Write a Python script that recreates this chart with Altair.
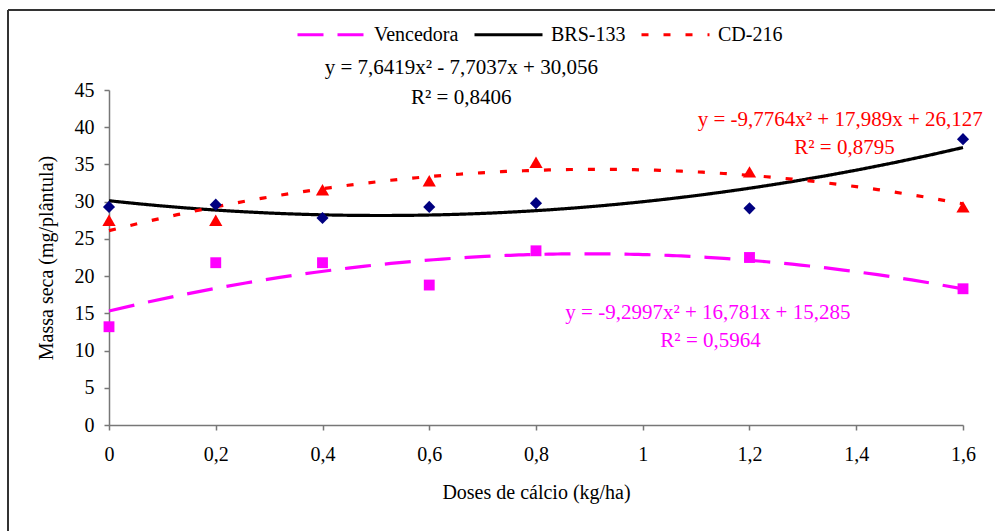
import altair as alt
import pandas as pd

# ---- data ----
doses = [0, 0.2, 0.4, 0.6, 0.8, 1.2, 1.6]
vencedora = [13.2, 21.8, 21.8, 18.8, 23.4, 22.5, 18.3]
brs133 = [29.3, 29.6, 27.8, 29.3, 29.8, 29.1, 38.4]
cd216 = [27.5, 27.5, 31.6, 32.8, 35.3, 34.0, 29.3]

cultivars = ["Vencedora", "BRS-133", "CD-216"]
line_colors = ["#FF00FF", "#000000", "#FF0000"]
point_colors = ["#FF00FF", "#000080", "#FF0000"]
point_shapes = ["square", "diamond", "triangle-up"]
point_sizes = [118, 175, 190]
dashes = [[26, 14], [1, 0], [7, 15]]

x_ticks = [0, 0.2, 0.4, 0.6, 0.8, 1.0, 1.2, 1.4, 1.6]
y_ticks = [0, 5, 10, 15, 20, 25, 30, 35, 40, 45]

eq_texts = [
    "y = 7,6419x² - 7,7037x + 30,056", "R² = 0,8406",
    "y = -9,7764x² + 17,989x + 26,127", "R² = 0,8795",
    "y = -9,2997x² + 16,781x + 15,285", "R² = 0,5964",
]
eq_groups = ["BRS-133", "BRS-133", "CD-216", "CD-216", "Vencedora", "Vencedora"]
eq_x = [0.66, 0.66, 1.37, 1.378, 1.122, 1.127]
eq_y = [48.0, 43.9, 41.0, 37.2, 15.05, 11.3]

rows = []
for name, vals in zip(cultivars, [vencedora, brs133, cd216]):
    for d, v in zip(doses, vals):
        rows.append({"Cultivar": name, "dose": d, "massa": v})
df = pd.DataFrame(rows)

ann = pd.DataFrame({"text": eq_texts, "Cultivar": eq_groups, "dose": eq_x, "massa": eq_y})

FONT = "Liberation Serif"

xscale = alt.Scale(domain=[0, 1.6], nice=False, zero=False)
yscale = alt.Scale(domain=[0, 45], nice=False, zero=True)

x_axis = alt.Axis(
    title="Doses de cálcio (kg/ha)", values=x_ticks,
    labelExpr="replace(format(datum.value, '.2~f'), '.', ',')",
    grid=False, tickSize=5, labelPadding=14, titlePadding=18,
    labelFlush=False, labelOverlap=False,
)
y_axis = alt.Axis(
    title="Massa seca (mg/plântula)", values=y_ticks,
    grid=False, tickSize=5, labelPadding=10, titlePadding=18,
    labelOverlap=False, labelFlush=False,
)

def xe():
    return alt.X("dose:Q", scale=xscale, axis=x_axis)

def ye():
    return alt.Y("massa:Q", scale=yscale, axis=y_axis)

legend_opts = dict(
    title=None, orient="none", direction="horizontal",
    legendX=187, legendY=-91, symbolType="stroke", symbolSize=4624,
    symbolStrokeWidth=3, labelFont=FONT, labelFontSize=20,
    labelColor="#000000", labelOffset=7, columnPadding=9, padding=0,
)

base = alt.Chart(df)

lines = base.transform_regression(
    "dose", "massa", method="poly", order=2, groupby=["Cultivar"], extent=[0, 1.6]
).mark_line(strokeWidth=3.2, clip=False).encode(
    x=xe(),
    y=ye(),
    color=alt.Color(
        "Cultivar:N",
        scale=alt.Scale(domain=cultivars, range=line_colors),
        legend=alt.Legend(**legend_opts),
    ),
    strokeDash=alt.StrokeDash(
        "Cultivar:N",
        scale=alt.Scale(domain=cultivars, range=dashes),
        legend=alt.Legend(**legend_opts),
    ),
)

points = base.mark_point(filled=True, opacity=1).encode(
    x=xe(),
    y=ye(),
    color=alt.Color("Cultivar:N", scale=alt.Scale(domain=cultivars, range=point_colors), legend=None),
    shape=alt.Shape("Cultivar:N", scale=alt.Scale(domain=cultivars, range=point_shapes), legend=None),
    size=alt.Size("Cultivar:N", scale=alt.Scale(domain=cultivars, range=point_sizes), legend=None),
)

texts = alt.Chart(ann).mark_text(font=FONT, fontSize=21, align="center", baseline="middle").encode(
    x=xe(),
    y=ye(),
    text="text:N",
    color=alt.Color("Cultivar:N", scale=alt.Scale(domain=cultivars, range=line_colors), legend=None),
)

frame_src = alt.Data(values=[{"k": 1}])
frame_left = alt.Chart(frame_src).mark_rule(color="#333333", strokeWidth=2).encode(
    x=alt.value(-101), y=alt.value(-80), y2=alt.value(460)
)
frame_top = alt.Chart(frame_src).mark_rule(color="#333333", strokeWidth=2).encode(
    x=alt.value(-101), x2=alt.value(900), y=alt.value(-80)
)

chart = alt.layer(lines, points, texts, frame_left, frame_top).resolve_scale(
    color="independent", shape="independent", strokeDash="independent", size="independent"
).properties(
    width=854, height=335,
    autosize=alt.AutoSizeParams(type="none"),
    padding={"left": 109, "top": 90, "right": 32, "bottom": 106},
    background="white",
).configure_view(stroke=None).configure_axis(
    labelFont=FONT, titleFont=FONT, labelFontSize=20, titleFontSize=20,
    titleFontWeight="normal", labelColor="#000000", titleColor="#000000",
    domainColor="#777777", tickColor="#777777", domainWidth=1.5, tickWidth=1.5,
)

chart.save("out.html", embed_options={"renderer": "svg", "actions": False})
